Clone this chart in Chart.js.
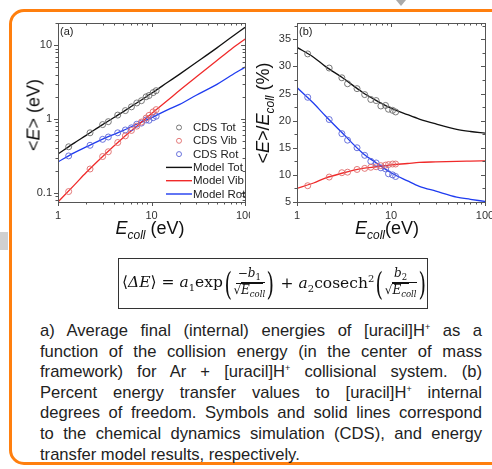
<!DOCTYPE html>
<html>
<head>
<meta charset="utf-8">
<script src="https://cdn.jsdelivr.net/npm/chart.js"></script>
<style>
  body { margin: 0; width: 492px; height: 469px; overflow: hidden; background: #fff; position: relative;
         font-family: "Liberation Sans", Arial, sans-serif; color: #1a1a1a; }
  .frame { position: absolute; left: 9px; top: 9px; width: 600px; height: 456px; border: 3px solid #ff7f0e;
           border-radius: 15px; box-sizing: border-box; }
  .tri { position: absolute; left: 396px; top: 0; width: 0; height: 0; border-left: 5px solid transparent;
         border-right: 5px solid transparent; border-top: 6px solid #aaa; }
  .sq { position: absolute; left: 0; top: 232px; width: 8px; height: 18px; background: #d0d0d0; }
  canvas { position: absolute; top: 0; }
  .ytitle { position: absolute; transform: translate(-50%, -50%) rotate(-90deg); white-space: nowrap;
            font-size: 18px; color: #111; }
  .xtitle { position: absolute; transform: translate(-50%, -50%); white-space: nowrap; font-size: 18px; color: #111; }
  .sub { font-size: 12px; font-style: italic; vertical-align: -5px; }
  #formula { position: absolute; left: 118px; top: 258px; width: 310px; height: 51px; box-sizing: border-box;
             border: 1px solid #333; display: flex; align-items: center; padding-left: 3px;
             font-family: "DejaVu Serif", "Liberation Serif", serif; font-size: 15.5px; color: #111; white-space: nowrap; }
  #formula sub { font-size: 10px; }
  #formula sup { font-size: 10px; }
  .paren { font-size: 32px; font-weight: 200; transform: scaleX(0.6); display: inline-block; line-height: 1; margin: 0 -1px; }
  .frac { display: inline-flex; flex-direction: column; align-items: center; font-size: 12px; line-height: 1.15; }
  .frac .num { border-bottom: 1px solid #111; padding: 0 2px; }
  .ov { border-top: 1px solid #111; }
  .frac sub { font-size: 8.5px !important; }
  #caption { position: absolute; left: 40px; top: 321px; width: 442px; font-size: 16.6px; line-height: 20.6px; color: #222; }
  #caption div { text-align: justify; text-align-last: justify; white-space: nowrap; }
  #caption div.last { text-align-last: left; }
  #caption sup { font-size: 9px; line-height: 0; vertical-align: 6px; }
</style>
</head>
<body>
<div class="frame"></div>
<div class="tri"></div>
<div class="sq"></div>

<canvas id="chartA" width="250" height="250" style="left:0px"></canvas>
<canvas id="chartB" width="242" height="250" style="left:250px"></canvas>

<div class="ytitle" style="left:34px; top:115px;">&lt;<i>E</i>&gt; (eV)</div>
<div class="xtitle" style="left:150px; top:230px;"><i>E</i><span class="sub">coll</span> (eV)</div>
<div class="ytitle" style="left:265px; top:113px;">&lt;<i>E</i>&gt;/<i>E</i><span class="sub">coll</span> (%)</div>
<div class="xtitle" style="left:387px; top:230px;"><i>E</i><span class="sub">coll</span>(eV)</div>

<div id="formula">
  <span>⟨<i>ΔE</i>⟩ = <i>a</i><sub>1</sub>exp</span>
  <span class="paren">(</span>
  <span class="frac"><span class="num">−<i>b</i><sub>1</sub></span><span>√<span class="ov"><i>E</i><sub><i>coll</i></sub></span></span></span>
  <span class="paren">)</span>
  <span>&nbsp;+&nbsp;<i>a</i><sub>2</sub>cosech<sup>2</sup></span>
  <span class="paren">(</span>
  <span class="frac"><span class="num"><i>b</i><sub>2</sub></span><span>√<span class="ov"><i>E</i><sub><i>coll</i></sub></span></span></span>
  <span class="paren">)</span>
</div>

<div id="caption">
  <div>a) Average final (internal) energies of [uracil]H<sup>+</sup> as a</div>
  <div>function of the collision energy (in the center of mass</div>
  <div>framework) for Ar + [uracil]H<sup>+</sup> collisional system. (b)</div>
  <div>Percent energy transfer values to [uracil]H<sup>+</sup> internal</div>
  <div>degrees of freedom. Symbols and solid lines correspond</div>
  <div>to the chemical dynamics simulation (CDS), and energy</div>
  <div class="last">transfer model results, respectively.</div>
</div>

<script>
// collision energies of the CDS runs (eV)
const eSim = [1.3, 2.2, 3.0, 3.45, 4.35, 5.25, 6.1, 6.95, 7.8, 8.75, 9.4, 10.4, 11.2];
// (a) CDS average energies (eV)
const cdsTotA = [0.42, 0.65, 0.84, 0.92, 1.13, 1.30, 1.46, 1.65, 1.77, 2.00, 2.08, 2.28, 2.42];
const cdsVibA = [0.104, 0.21, 0.31, 0.36, 0.48, 0.59, 0.70, 0.80, 0.91, 1.03, 1.12, 1.25, 1.34];
const cdsRotA = [0.316, 0.44, 0.53, 0.57, 0.65, 0.71, 0.76, 0.85, 0.88, 0.97, 0.96, 1.04, 1.09];
// (b) CDS percent transfer
const cdsTotB = [32.3, 29.7, 27.9, 26.8, 25.9, 24.8, 23.9, 23.7, 22.7, 22.8, 22.1, 21.9, 21.6];
const cdsVibB = [8.0, 9.6, 10.4, 10.5, 11.0, 11.2, 11.4, 11.5, 11.7, 11.8, 11.9, 12.0, 12.0];
const cdsRotB = [24.3, 20.2, 17.6, 16.4, 15.0, 13.6, 12.5, 12.2, 11.3, 11.1, 10.2, 10.0, 9.7];
// model curves, read at these energies
const eModel = [1, 1.5, 2, 3, 5, 7, 10, 15, 20, 30, 50, 70, 100];
const modelTotA = [0.335, 0.475, 0.60, 0.84, 1.26, 1.66, 2.23, 3.17, 4.06, 5.82, 9.2, 12.6, 17.5];
const modelVibA = [0.075, 0.128, 0.188, 0.31, 0.56, 0.805, 1.185, 1.81, 2.45, 3.7, 6.2, 8.7, 12.1];
const modelRotA = [0.262, 0.35, 0.418, 0.535, 0.70, 0.855, 1.04, 1.34, 1.58, 2.1, 2.95, 3.85, 5.05];
const modelTotB = [33.5, 31.7, 30.0, 28.0, 25.2, 23.7, 22.3, 21.1, 20.3, 19.4, 18.4, 18.0, 17.7];
const modelVibB = [7.5, 8.5, 9.4, 10.3, 11.2, 11.5, 11.85, 12.1, 12.3, 12.4, 12.5, 12.55, 12.6];
const modelRotB = [26.1, 23.2, 20.9, 17.8, 14.0, 12.2, 10.4, 8.9, 7.9, 7.0, 5.9, 5.5, 5.1];
// labelled ticks
const xTickLabels = [1, 10, 100];
const yTickLabelsA = [0.1, 1, 10];
const yTickLabelsB = [5, 10, 15, 20, 25, 30, 35];

const FONT = '"Liberation Sans", Arial, sans-serif';
const colTot = '#111111', colVib = '#f02a2a', colRot = '#1f3cf0';
const ptTot = '#6a6a6a', ptVib = '#e06a6a', ptRot = '#5a64d8';

const pairs = (xs, ys) => xs.map((x, i) => ({ x: x, y: ys[i] }));

function simSet(label, ys, color) {
    return { label: label, data: pairs(eSim, ys), showLine: false, pointStyle: 'circle', pointRadius: 3,
             borderColor: color, backgroundColor: 'rgba(0,0,0,0)', borderWidth: 0.9, order: 1 };
}
function modelSet(label, ys, color) {
    return { label: label, data: pairs(eModel, ys), showLine: true, pointRadius: 0, borderColor: color,
             borderWidth: 1.3, cubicInterpolationMode: 'monotone', order: 2 };
}

// log minor ticks (2..9 in every decade) and linear minor ticks
function logTicks(lo, hi) {
    const out = [];
    for (let d = Math.floor(Math.log10(lo)); d <= Math.ceil(Math.log10(hi)); d++) {
        for (let k = 1; k < 10; k++) {
            const v = k * Math.pow(10, d);
            if (v >= lo * 0.999 && v <= hi * 1.001) out.push({ v: v, major: k === 1 });
        }
    }
    return out;
}
function linTicks(lo, hi, step) {
    const out = [];
    for (let v = lo; v <= hi + 1e-9; v += step / 2) out.push({ v: v, major: Math.abs(v / step - Math.round(v / step)) < 1e-6 });
    return out;
}

// box frame with outward ticks on left/bottom, inward on top/right, panel tag and legend
const frameTicks = {
    id: 'frameTicks',
    afterDraw(chart, args, opts) {
        const ctx = chart.ctx, a = chart.chartArea, x = chart.scales.x, y = chart.scales.y;
        ctx.save();
        ctx.strokeStyle = '#555';
        ctx.lineWidth = 1;
        ctx.strokeRect(Math.round(a.left) + 0.5, Math.round(a.top) + 0.5, Math.round(a.right - a.left), Math.round(a.bottom - a.top));
        ctx.beginPath();
        opts.xTicks.forEach(t => {
            const px = Math.round(x.getPixelForValue(t.v)) + 0.5;
            const out = t.major ? 4 : 2.5, inn = t.major ? 4 : 2.5;
            ctx.moveTo(px, a.bottom); ctx.lineTo(px, a.bottom + out);
            ctx.moveTo(px, a.top); ctx.lineTo(px, a.top + inn);
        });
        opts.yTicks.forEach(t => {
            const py = Math.round(y.getPixelForValue(t.v)) + 0.5;
            const out = t.major ? 4 : 2.5, inn = t.major ? 4 : 2.5;
            ctx.moveTo(a.left, py); ctx.lineTo(a.left - out, py);
            ctx.moveTo(a.right, py); ctx.lineTo(a.right - inn, py);
        });
        ctx.stroke();

        ctx.fillStyle = '#222';
        ctx.font = '11px ' + FONT;
        ctx.textBaseline = 'top';
        ctx.fillText(opts.tag, a.left + 2, a.top + 3);

        if (opts.legend) {
            const L = opts.legend;
            ctx.font = '11.5px ' + FONT;
            ctx.textBaseline = 'middle';
            L.items.forEach((it, i) => {
                const ry = L.y + i * L.step;
                if (it.type === 'point') {
                    ctx.strokeStyle = it.color; ctx.lineWidth = 0.9;
                    ctx.beginPath(); ctx.arc(L.x + 13, ry, 2.5, 0, Math.PI * 2); ctx.stroke();
                } else {
                    ctx.strokeStyle = it.color; ctx.lineWidth = 1.4;
                    ctx.beginPath(); ctx.moveTo(L.x, ry); ctx.lineTo(L.x + 26, ry); ctx.stroke();
                }
                ctx.fillStyle = '#222';
                ctx.fillText(it.text, L.x + 27, ry + 0.5);
            });
        }
        ctx.restore();
    }
};

function axisTicksStyle(pad) {
    return { padding: pad, color: '#333', font: { family: FONT, size: 11 }, autoSkip: false, maxRotation: 0,
             callback: v => String(v) };
}

function makeChart(id, o) {
    return new Chart(document.getElementById(id).getContext('2d'), {
        type: 'scatter',
        data: { datasets: o.datasets },
        options: {
            responsive: false,
            animation: false,
            layout: { padding: { left: 0, top: 23, right: o.padRight, bottom: 0 } },
            plugins: { legend: { display: false }, tooltip: { enabled: false }, frameTicks: o.frame },
            scales: {
                x: {
                    type: 'logarithmic', min: 1, max: 100,
                    grid: { display: false, drawTicks: false }, border: { display: false },
                    ticks: axisTicksStyle(7),
                    afterBuildTicks: s => { s.ticks = xTickLabels.map(v => ({ value: v })); },
                    afterFit: s => { s.height = 48; s.paddingLeft = 0; s.paddingRight = 0; }
                },
                y: Object.assign({
                    grid: { display: false, drawTicks: false }, border: { display: false },
                    ticks: axisTicksStyle(6),
                    afterBuildTicks: s => { s.ticks = o.yLabels.map(v => ({ value: v })); },
                    afterFit: s => { s.width = o.yWidth; s.paddingTop = 0; s.paddingBottom = 0; }
                }, o.y)
            }
        },
        plugins: [frameTicks]
    });
}

makeChart('chartA', {
    padRight: 4, yWidth: 58, yLabels: yTickLabelsA,
    y: { type: 'logarithmic', min: 0.075, max: 20 },
    datasets: [
        modelSet('Model Tot', modelTotA, colTot),
        modelSet('Model Vib', modelVibA, colVib),
        modelSet('Model Rot', modelRotA, colRot),
        simSet('CDS Tot', cdsTotA, ptTot),
        simSet('CDS Vib', cdsVibA, ptVib),
        simSet('CDS Rot', cdsRotA, ptRot)
    ],
    frame: {
        tag: '(a)', xTicks: logTicks(1, 100), yTicks: logTicks(0.075, 20),
        legend: { x: 166, y: 127.5, step: 13.3, items: [
            { type: 'point', color: ptTot, text: 'CDS Tot' },
            { type: 'point', color: ptVib, text: 'CDS Vib' },
            { type: 'point', color: ptRot, text: 'CDS Rot' },
            { type: 'line', color: colTot, text: 'Model Tot' },
            { type: 'line', color: colVib, text: 'Model Vib' },
            { type: 'line', color: colRot, text: 'Model Rot' }
        ] }
    }
});

makeChart('chartB', {
    padRight: 7, yWidth: 47, yLabels: yTickLabelsB,
    y: { type: 'linear', min: 5, max: 38 },
    datasets: [
        modelSet('Model Tot', modelTotB, colTot),
        modelSet('Model Vib', modelVibB, colVib),
        modelSet('Model Rot', modelRotB, colRot),
        simSet('CDS Tot', cdsTotB, ptTot),
        simSet('CDS Vib', cdsVibB, ptVib),
        simSet('CDS Rot', cdsRotB, ptRot)
    ],
    frame: { tag: '(b)', xTicks: logTicks(1, 100), yTicks: linTicks(5, 37.5, 5) }
});
</script>
</body>
</html>
